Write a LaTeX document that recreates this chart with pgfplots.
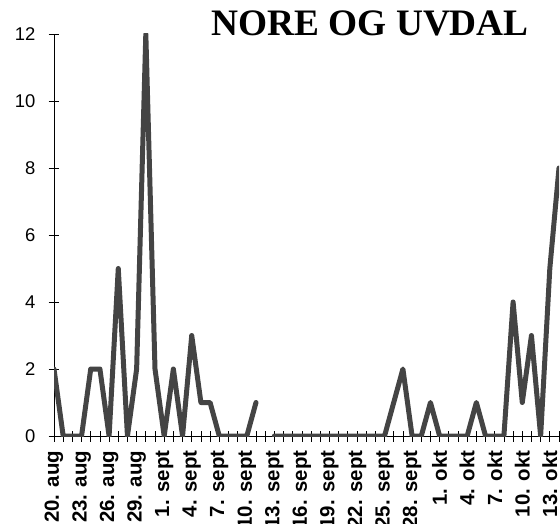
\documentclass[border=0pt]{standalone}
\usepackage{pgfplots}
\pgfplotsset{compat=1.18}
\usepackage{fontspec}
\setmainfont{Liberation Sans}
\newfontfamily\titlefont{Liberation Serif}
\definecolor{linegray}{HTML}{444444}
\pgfplotstableread{
x y
0 2
1 0
2 0
3 0
4 2
5 2
6 0
7 5
8 0
9 2
10 12
11 2
12 0
13 2
14 0
15 3
16 1
17 1
18 0
19 0
20 0
21 0
22 1
23 nan
24 0
25 0
26 0
27 0
28 0
29 0
30 0
31 0
32 0
33 0
34 0
35 0
36 0
37 1
38 2
39 0
40 0
41 1
42 0
43 0
44 0
45 0
46 1
47 0
48 0
49 0
50 4
51 1
52 3
53 0
54 5
55 8
}\datatable
\begin{document}
\begin{tikzpicture}
\path[use as bounding box] (-54bp,-88bp) rectangle (506bp,436bp);
\begin{axis}[
  at={(0,0)}, anchor=south west,
  scale only axis,
  width=505bp, height=402bp,
  xmin=0, xmax=55, ymin=0, ymax=12,
  clip mode=individual,
  axis x line*=bottom, axis y line*=left,
  axis line style={black, line width=0.8bp},
  xtick={0,3,...,54},
  minor xtick={0,...,55},
  ytick={0,2,...,12},
  tick align=center,
  major tick length=11bp, minor tick length=11bp,
  tick style={black, line width=0.8bp},
  xticklabels={20. aug,23. aug,26. aug,29. aug,1. sept,4. sept,7. sept,10. sept,13. sept,16. sept,19. sept,22. sept,25. sept,28. sept,1. okt,4. okt,7. okt,10. okt,13. okt},
  xticklabel style={rotate=90, anchor=east, font=\fontsize{20.5}{20.5}\selectfont\bfseries, inner sep=0pt, xshift=-9bp},
  yticklabel style={font=\fontsize{18.5}{18.5}\selectfont, inner sep=0pt, xshift=-13bp},
  /pgf/number format/assume math mode=true,
  unbounded coords=jump,
]
\addplot[linegray, line width=5bp, line join=round, line cap=round] table[x=x, y=y] {\datatable};
\node[anchor=base, font=\titlefont\fontsize{37.5}{37.5}\selectfont\bfseries] at (rel axis cs:0.626,0.9975) {NORE OG UVDAL};
\end{axis}
\end{tikzpicture}
\end{document}
